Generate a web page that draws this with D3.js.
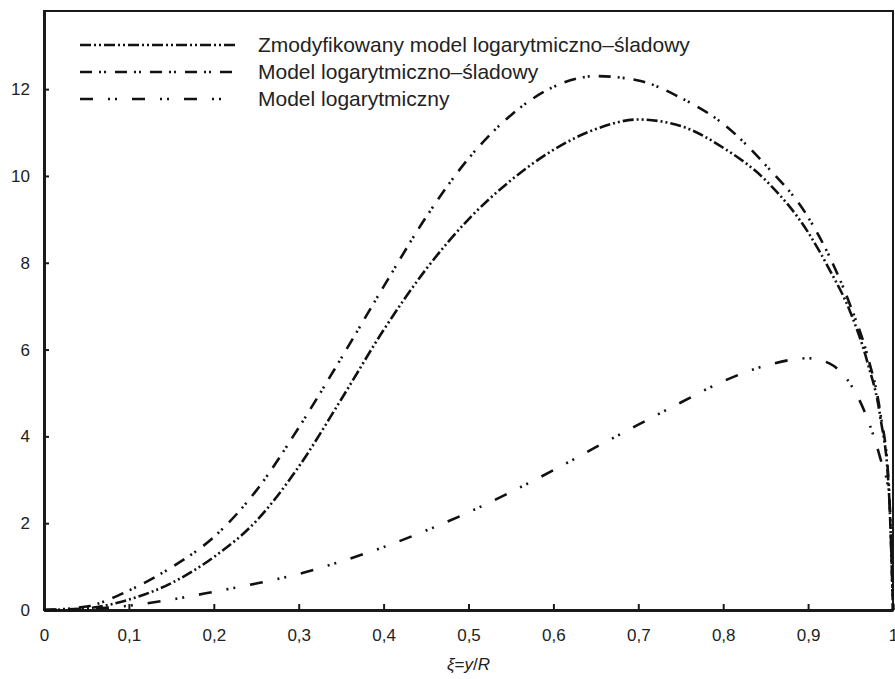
<!DOCTYPE html>
<html>
<head>
<meta charset="utf-8">
<script src="https://cdn.jsdelivr.net/npm/d3@7"></script>
<style>
  body { margin: 0; background: #fff; }
  svg { font-family: "Liberation Sans", Arial, sans-serif; }
</style>
</head>
<body>
<div id="chart"></div>
<script>
// xi = y/R grid shared by all three curves
var xi = [0, 0.05, 0.1, 0.15, 0.2, 0.25, 0.3, 0.35, 0.4, 0.45, 0.5, 0.55, 0.6, 0.65, 0.7,
          0.75, 0.8, 0.85, 0.9, 0.925, 0.95, 0.97, 0.985, 0.995, 1];

var modLogWake = [0, 0.04, 0.24, 0.62, 1.22, 2.05, 3.3, 4.85, 6.45, 7.85, 9.0, 9.9, 10.6, 11.08, 11.3,
                  11.15, 10.65, 9.9, 8.7, 7.85, 6.85, 5.7, 4.45, 2.8, 0];
var logWake = [0, 0.08, 0.45, 0.98, 1.68, 2.75, 4.2, 5.8, 7.45, 9.05, 10.4, 11.4, 12.05, 12.3, 12.2,
               11.8, 11.2, 10.25, 9.05, 8.15, 7.0, 5.85, 4.55, 2.9, 0];
var logOnly = [0, 0.02, 0.1, 0.24, 0.42, 0.61, 0.83, 1.12, 1.45, 1.83, 2.25, 2.72, 3.22, 3.75, 4.27,
               4.78, 5.27, 5.63, 5.8, 5.68, 5.2, 4.4, 3.5, 2.7, 0];

var seriesNames = ["Zmodyfikowany model logarytmiczno\u2013\u015bladowy",
                   "Model logarytmiczno\u2013\u015bladowy",
                   "Model logarytmiczny"];
var xTicks = [0, 0.1, 0.2, 0.3, 0.4, 0.5, 0.6, 0.7, 0.8, 0.9, 1];
var yTicks = [0, 2, 4, 6, 8, 10, 12];

var W = 895, H = 679;
var margin = {top: 11, left: 44, right: 2, bottom: 69};

var x = d3.scaleLinear().domain([0, 1]).range([margin.left, W - margin.right]);
var y = d3.scaleLinear().domain([0, 13.8]).range([H - margin.bottom, margin.top]);

var dashes = ["11,3,2,3,2,3", "12,7,2,3,2,9", "13,15,2,5,2,15"];

var svg = d3.select("#chart").append("svg")
    .attr("width", W)
    .attr("height", H);

// frame
svg.append("rect")
    .attr("x", margin.left).attr("y", margin.top)
    .attr("width", x(1) - margin.left)
    .attr("height", y(0) - margin.top)
    .attr("fill", "none").attr("stroke", "#1a1a1a").attr("stroke-width", 2);

var fmt = function(d) { return String(d).replace(".", ","); };

var xAxis = svg.append("g")
    .attr("transform", "translate(0," + y(0) + ")")
    .call(d3.axisBottom(x).tickValues(xTicks).tickSizeInner(-6).tickSizeOuter(0).tickPadding(19).tickFormat(fmt));

var yAxis = svg.append("g")
    .attr("transform", "translate(" + margin.left + ",0)")
    .call(d3.axisLeft(y).tickValues(yTicks).tickSizeInner(-5).tickSizeOuter(0).tickPadding(14).tickFormat(fmt));

[xAxis, yAxis].forEach(function(a) {
  a.select(".domain").attr("stroke", "#1a1a1a").attr("stroke-width", 3);
  a.selectAll(".tick line").attr("stroke", "#1a1a1a").attr("stroke-width", 2);
  a.selectAll("text").attr("fill", "#222").style("font-size", "17px");
});

// axis title
var title = svg.append("text")
    .attr("x", x(0.5)).attr("y", 670)
    .attr("text-anchor", "middle")
    .style("font-size", "17px").attr("fill", "#222");
title.append("tspan").style("font-style", "italic").text("\u03be");
title.append("tspan").text("=");
title.append("tspan").style("font-style", "italic").text("y");
title.append("tspan").text("/");
title.append("tspan").style("font-style", "italic").text("R");

var line = d3.line()
    .x(function(d) { return x(d[0]); })
    .y(function(d) { return y(d[1]); })
    .curve(d3.curveMonotoneX);

var all = [modLogWake, logWake, logOnly];

all.forEach(function(vals, i) {
  svg.append("path")
    .datum(xi.map(function(v, k) { return [v, vals[k]]; }))
    .attr("d", line)
    .attr("fill", "none")
    .attr("stroke", "#111")
    .attr("stroke-width", 2.6)
    .attr("stroke-dasharray", dashes[i]);
});

// legend
var legendG = svg.selectAll(".legend")
    .data(seriesNames)
    .enter().append("g")
    .attr("class", "legend")
    .attr("transform", function(d, i) { return "translate(0," + (45 + i * 27) + ")"; });

legendG.append("line")
    .attr("x1", 80).attr("x2", 235)
    .attr("stroke", "#111").attr("stroke-width", 2.6)
    .attr("stroke-dasharray", function(d, i) { return dashes[i]; });

legendG.append("text")
    .attr("x", 258).attr("y", 7)
    .style("font-size", "21px").attr("fill", "#222")
    .text(function(d) { return d; });
</script>
</body>
</html>
